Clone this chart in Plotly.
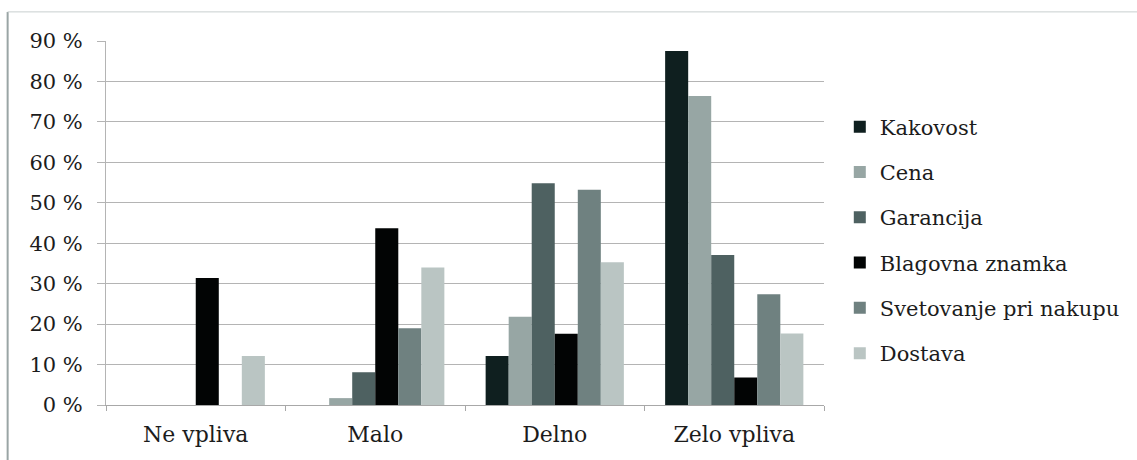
import plotly.graph_objects as go

categories = ["Ne vpliva", "Malo", "Delno", "Zelo vpliva"]

kakovost = [0, 0, 12.1, 87.5]
cena = [0, 1.7, 21.8, 76.4]
garancija = [0, 8.1, 54.8, 37.1]
blagovna_znamka = [31.4, 43.7, 17.6, 6.8]
svetovanje = [0, 19.0, 53.2, 27.4]
dostava = [12.1, 34.0, 35.3, 17.7]

series = [
    ("Kakovost", kakovost, "#0f1f1f"),
    ("Cena", cena, "#97a6a4"),
    ("Garancija", garancija, "#4e6161"),
    ("Blagovna znamka", blagovna_znamka, "#020404"),
    ("Svetovanje pri nakupu", svetovanje, "#6f8180"),
    ("Dostava", dostava, "#bac5c3"),
]

y_ticks = list(range(0, 100, 10))
y_labels = [f"{v} %" for v in y_ticks]

font_family = "DejaVu Serif"

fig = go.Figure()
for i, (name, vals, color) in enumerate(series):
    fig.add_trace(go.Bar(
        x=categories, y=vals, name=name,
        marker=dict(color=color, line=dict(width=0)),
        legendgroup=f"g{i}",
    ))

fig.update_layout(
    width=1137, height=460,
    margin=dict(l=106, r=313, t=41, b=55),
    paper_bgcolor="white", plot_bgcolor="white",
    barmode="group", bargap=0.23, bargroupgap=0,
    font=dict(family=font_family, color="#1c1c1c"),
    legend=dict(
        x=1.022, y=0.82, xanchor="left", yanchor="top",
        font=dict(size=21, family=font_family, color="#1c1c1c"),
        tracegroupgap=15, itemwidth=30,
        bgcolor="rgba(0,0,0,0)",
    ),
    showlegend=True,
)

fig.update_xaxes(
    type="category",
    showline=True, linecolor="#a8a8a8", linewidth=1,
    ticks="outside", tickson="boundaries", ticklen=5, tickcolor="#a8a8a8",
    tickfont=dict(size=22, family=font_family, color="#1c1c1c"),
    ticklabelstandoff=10,
    showgrid=False,
)

fig.update_yaxes(
    range=[0, 90], tickvals=y_ticks, ticktext=y_labels,
    showgrid=True, gridcolor="#b4b4b4", gridwidth=1,
    showline=True, linecolor="#b4b4b4", linewidth=1,
    ticks="outside", ticklen=8, tickcolor="#b4b4b4",
    tickfont=dict(size=21, family=font_family, color="#1c1c1c"),
    ticklabelstandoff=10,
    zeroline=False,
)

# Outer chart frame: left and top edges
fig.add_shape(type="line", xref="paper", yref="paper",
              x0=-0.137, x1=-0.137, y0=-0.2, y1=1.08,
              line=dict(color="#9aa5a5", width=2))
fig.add_shape(type="line", xref="paper", yref="paper",
              x0=-0.137, x1=1.6, y0=1.08, y1=1.08,
              line=dict(color="#c8cfcf", width=1))

fig.write_html("out.html")
